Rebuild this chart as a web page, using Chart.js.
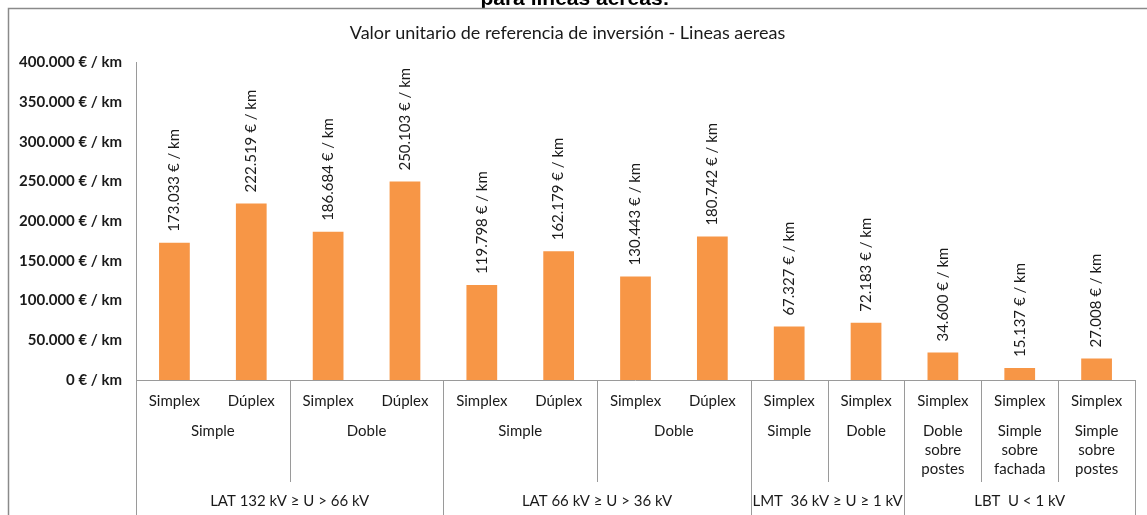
<!DOCTYPE html>
<html>
<head>
<meta charset="utf-8">
<script src="https://cdn.jsdelivr.net/npm/chart.js@4"></script>
<style>
  html, body { margin: 0; padding: 0; background: #fff; }
  #wrap { width: 1147px; height: 515px; position: relative; }
</style>
</head>
<body>
<div id="wrap"><canvas id="grafico"></canvas></div>
<script>
// datos
const valores = [173033, 222519, 186684, 250103, 119798, 162179, 130443, 180742, 67327, 72183, 34600, 15137, 27008]
const nivel1 = ['Simplex', 'Dúplex', 'Simplex', 'Dúplex', 'Simplex', 'Dúplex', 'Simplex', 'Dúplex', 'Simplex', 'Simplex', 'Simplex', 'Simplex', 'Simplex']
const nivel2 = [['Simple'], ['Doble'], ['Simple'], ['Doble'], ['Simple'], ['Doble'], ['Doble', 'sobre', 'postes'], ['Simple', 'sobre', 'fachada'], ['Simple', 'sobre', 'postes']]
const nivel2Tramos = [2, 2, 2, 2, 1, 1, 1, 1, 1]
const nivel3 = ['LAT 132 kV ≥ U > 66 kV', 'LAT 66 kV ≥ U > 36 kV', 'LMT  36 kV ≥ U ≥ 1 kV', 'LBT  U < 1 kV']
const nivel3Tramos = [4, 4, 2, 3]
const ticksY = [0, 50000, 100000, 150000, 200000, 250000, 300000, 350000, 400000]

const fuente = 'Lato, "Open Sans", sans-serif'
const gris = '#9a9a9a'

function formatoEuro(v) {
    return String(v).replace(/\B(?=(\d{3})+(?!\d))/g, '.') + ' € / km'
}

// marco, titulo cortado y eje de categorias de tres niveles
const ejeMultinivel = {
    id: 'ejeMultinivel',
    beforeDraw(chart) {
        const ctx = chart.ctx
        ctx.save()
        ctx.fillStyle = '#000'
        ctx.font = 'bold 21px "Liberation Sans", Arial, sans-serif'
        ctx.textAlign = 'center'
        ctx.textBaseline = 'alphabetic'
        ctx.fillText('para líneas aéreas:', 575, 5)
        ctx.strokeStyle = '#8a8a8a'
        ctx.lineWidth = 1.5
        ctx.beginPath()
        ctx.moveTo(8.5, 515)
        ctx.lineTo(8.5, 8.5)
        ctx.lineTo(1147, 8.5)
        ctx.stroke()
        ctx.restore()
    },
    afterDraw(chart) {
        const ctx = chart.ctx
        const x = chart.scales.x
        const area = chart.chartArea
        const medio = (x.getPixelForValue(1) - x.getPixelForValue(0)) / 2
        const borde = (i) => x.getPixelForValue(i) - medio
        const fondo = chart.height
        ctx.save()
        ctx.strokeStyle = gris
        ctx.lineWidth = 1
        ctx.fillStyle = '#1a1a1a'
        ctx.textAlign = 'center'
        ctx.textBaseline = 'middle'

        // linea base
        ctx.beginPath()
        ctx.moveTo(area.left, area.bottom + 0.5)
        ctx.lineTo(area.right, area.bottom + 0.5)
        ctx.stroke()

        // nivel 1
        ctx.font = '15px ' + fuente
        nivel1.forEach((t, i) => ctx.fillText(t, x.getPixelForValue(i), area.bottom + 21))

        // nivel 2
        let i0 = 0
        nivel2.forEach((lineas, k) => {
            const i1 = i0 + nivel2Tramos[k]
            const cx = (borde(i0) + borde(i1)) / 2
            lineas.forEach((t, j) => ctx.fillText(t, cx, area.bottom + 51 + j * 19))
            ctx.beginPath()
            ctx.moveTo(Math.round(borde(i1)) + 0.5, area.bottom)
            ctx.lineTo(Math.round(borde(i1)) + 0.5, area.bottom + 102)
            ctx.stroke()
            i0 = i1
        })

        // nivel 3
        i0 = 0
        ctx.beginPath()
        ctx.moveTo(Math.round(borde(0)) + 0.5, area.bottom)
        ctx.lineTo(Math.round(borde(0)) + 0.5, fondo)
        ctx.stroke()
        nivel3.forEach((t, k) => {
            const i1 = i0 + nivel3Tramos[k]
            ctx.fillText(t, (borde(i0) + borde(i1)) / 2, area.bottom + 121)
            ctx.beginPath()
            ctx.moveTo(Math.round(borde(i1)) + 0.5, area.bottom)
            ctx.lineTo(Math.round(borde(i1)) + 0.5, fondo)
            ctx.stroke()
            i0 = i1
        })
        ctx.restore()
    }
}

// etiquetas de valor giradas sobre cada barra
const etiquetas = {
    id: 'etiquetas',
    afterDatasetsDraw(chart) {
        const ctx = chart.ctx
        const meta = chart.getDatasetMeta(0)
        ctx.save()
        ctx.fillStyle = '#1a1a1a'
        ctx.font = '15px ' + fuente
        ctx.textAlign = 'left'
        ctx.textBaseline = 'middle'
        meta.data.forEach((barra, i) => {
            ctx.save()
            ctx.translate(barra.x, barra.y - 11)
            ctx.rotate(-Math.PI / 2)
            ctx.fillText(formatoEuro(valores[i]), 0, 0)
            ctx.restore()
        })
        ctx.restore()
    }
}

const data = {
    labels: nivel1,
    datasets: [{
        data: valores,
        backgroundColor: '#F79646',
        barPercentage: 0.4,
        categoryPercentage: 1
    }]
}

const config = {
    type: 'bar',
    data: data,
    plugins: [ejeMultinivel, etiquetas],
    options: {
        responsive: true,
        maintainAspectRatio: false,
        animation: false,
        layout: { padding: { left: 0, right: 12, top: 0, bottom: 0 } },
        plugins: {
            legend: { display: false },
            tooltip: { enabled: false },
            title: {
                display: true,
                text: 'Valor unitario de referencia de inversión - Lineas aereas',
                color: '#1a1a1a',
                font: { family: fuente, size: 18, weight: 'normal' },
                padding: { top: 22, bottom: 19 }
            }
        },
        scales: {
            x: {
                grid: { display: false },
                border: { display: false },
                ticks: { display: false },
                afterFit: (s) => { s.height = 135 }
            },
            y: {
                min: 0,
                max: 400000,
                afterFit: (s) => { s.width = 136 },
                afterBuildTicks: (s) => { s.ticks = ticksY.map((v) => ({ value: v })) },
                grid: { display: false, drawTicks: false },
                border: { display: true, color: gris, width: 1 },
                ticks: {
                    padding: 14,
                    color: '#1a1a1a',
                    font: { family: fuente, size: 15, weight: 'bold' },
                    callback: (v) => formatoEuro(v)
                }
            }
        }
    }
}

const ctxGrafico = document.getElementById('grafico')

new Chart(ctxGrafico, config)
</script>
</body>
</html>
